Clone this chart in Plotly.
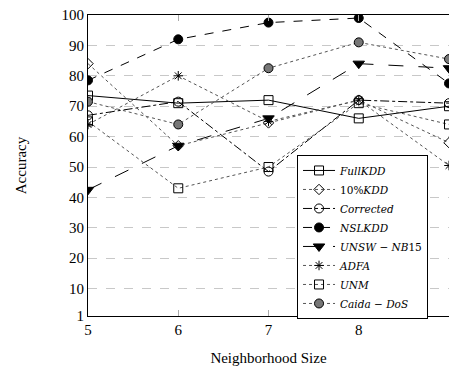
import plotly.graph_objects as go

neighborhood = [5, 6, 7, 8, 9]

full_kdd = [73.5, 71, 72, 66, 70]
kdd10 = [84, 57, 64.5, 72, 58]
corrected = [67, 71.5, 48.5, 72, 71]
nsl_kdd = [78.5, 92, 97.5, 99, 77.5]
unsw_nb15 = [42.5, 57, 66, 84, 82.5]
adfa = [64, 80, 65, 72, 50.5]
unm = [65, 43, 50, 71, 64]
caida_dos = [71.5, 64, 82.5, 91, 85.5]

y_ticks = [1, 10, 20, 30, 40, 50, 60, 70, 80, 90, 100]
x_ticks = [5, 6, 7, 8, 9]

FONT = "Liberation Serif"
LEG_FONT = "DejaVu Serif"

series = [
    ("<i>FullKDD</i>", full_kdd, "solid", "square-open", "black", "black", 9),
    ("10%<i>KDD</i>", kdd10, "dot", "diamond-open", "white", "#333", 8),
    ("<i>Corrected</i>", corrected, "dashdot", "circle-open", "white", "black", 9),
    ("<i>NSLKDD</i>", nsl_kdd, "dash", "circle", "black", "black", 9),
    ("<i>UNSW</i> − <i>NB</i>15", unsw_nb15, "longdash", "triangle-down", "black", "black", 10),
    ("<i>ADFA</i>", adfa, "dot", "asterisk-open", "black", "black", 8),
    ("<i>UNM</i>", unm, "dot", "square-open", "white", "black", 9),
    ("<i>Caida</i> − <i>DoS</i>", caida_dos, "dot", "circle", "#777", "black", 9),
]

fig = go.Figure()
for name, vals, dash, sym, fill, lc, size in series:
    line_color = "#555" if dash == "dot" else "black"
    fig.add_trace(go.Scatter(
        x=neighborhood, y=vals, name=name, mode="lines+markers",
        line=dict(color=line_color, width=1, dash=dash),
        marker=dict(symbol=sym, size=size, color=fill if not sym.endswith("open") else "black",
                    line=dict(color=lc, width=1)),
    ))

fig.update_layout(
    width=449, height=368,
    margin=dict(l=88, r=0, t=14.5, b=52.3),
    paper_bgcolor="white", plot_bgcolor="white",
    font=dict(family=FONT, size=15, color="black"),
    showlegend=True,
    legend=dict(
        x=0.579, y=0.535, xanchor="left", yanchor="top",
        bgcolor="white", bordercolor="black", borderwidth=1,
        font=dict(family=LEG_FONT, size=10.5),
        tracegroupgap=0, itemwidth=32,
    ),
    xaxis=dict(
        range=[5, 9], tickvals=x_ticks, ticktext=[str(v) for v in x_ticks],
        showgrid=False, zeroline=False,
        showline=True, linecolor="black", linewidth=1, mirror="ticks",
        ticks="inside", ticklen=6, tickcolor="#aaa",
        title=dict(text="Neighborhood Size", font=dict(size=15), standoff=15),
        tickfont=dict(size=15),
    ),
    yaxis=dict(
        range=[1, 100], tickvals=y_ticks, ticktext=[str(v) for v in y_ticks],
        showgrid=True, gridcolor="#c8c8c8", griddash="dash", gridwidth=1,
        zeroline=False,
        showline=True, linecolor="black", linewidth=1, mirror=True,
        ticks="",
        title=dict(text="Accuracy", font=dict(size=15), standoff=31),
        tickfont=dict(size=15),
    ),
)

fig.write_html("out.html", config={"displayModeBar": False},
               post_script="document.body.style.margin='0';")
